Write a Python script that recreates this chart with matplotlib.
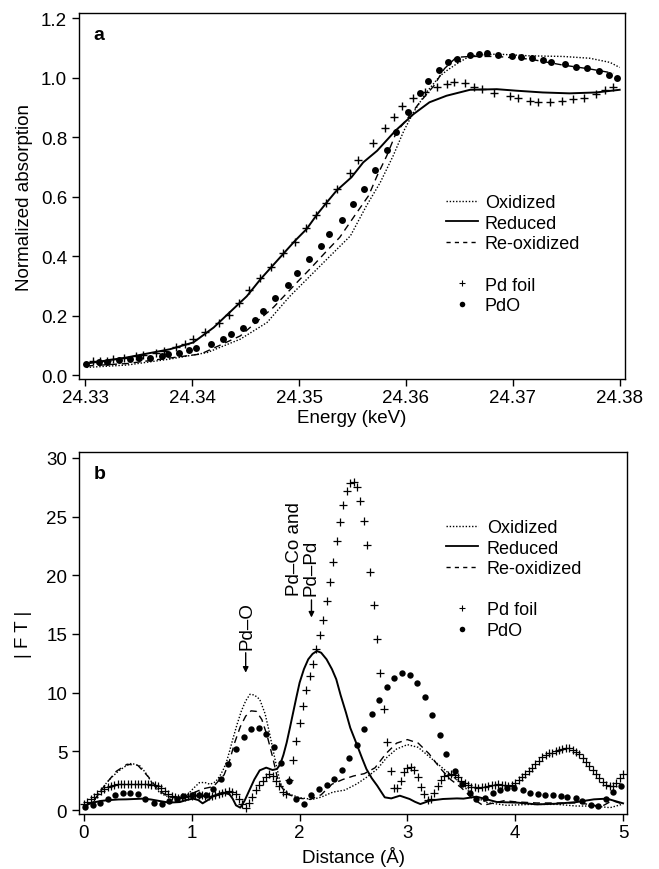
import numpy as np
import matplotlib
matplotlib.use('Agg')
import matplotlib.pyplot as plt
from matplotlib.lines import Line2D

plt.rcParams['font.family'] = ['Liberation Sans', 'DejaVu Sans']

# ---- panel a: XANES (energy in keV, normalized absorption) ----
red_e = [24.3301, 24.3338, 24.3379, 24.3401, 24.3420, 24.3435, 24.3451, 24.3464, 24.3475, 24.3485,
         24.3496, 24.3507, 24.3517, 24.3526, 24.3535, 24.3549, 24.3560, 24.3573, 24.3590, 24.3607,
         24.3622, 24.3638, 24.3660, 24.3685, 24.3703, 24.3728, 24.3753, 24.3778, 24.3800]
red_mu = [0.039, 0.059, 0.087, 0.110, 0.160, 0.211, 0.265, 0.323, 0.367, 0.407,
          0.451, 0.491, 0.541, 0.581, 0.620, 0.665, 0.715, 0.754, 0.821, 0.877,
          0.917, 0.939, 0.959, 0.961, 0.956, 0.950, 0.947, 0.950, 0.959]

oxi_e = [24.3301, 24.3339, 24.3379, 24.3414, 24.3445, 24.3470, 24.3491, 24.3523, 24.3548, 24.3563,
         24.3576, 24.3588, 24.3598, 24.3607, 24.3619, 24.3632, 24.3638, 24.3647, 24.3660, 24.3685,
         24.3716, 24.3747, 24.3772, 24.3791, 24.3800]
oxi_mu = [0.026, 0.034, 0.054, 0.076, 0.121, 0.177, 0.264, 0.379, 0.468, 0.569,
          0.648, 0.737, 0.821, 0.883, 0.950, 1.006, 1.023, 1.045, 1.073, 1.079,
          1.073, 1.071, 1.065, 1.051, 1.034]

reox_e = [24.3301, 24.3339, 24.3408, 24.3445, 24.3476, 24.3501, 24.3510, 24.3526, 24.3538, 24.3552,
          24.3565, 24.3573, 24.3582, 24.3591, 24.3601, 24.3613, 24.3626, 24.3636, 24.3647, 24.3660,
          24.3685, 24.3716, 24.3747, 24.3772, 24.3794]
reox_mu = [0.031, 0.039, 0.071, 0.132, 0.228, 0.323, 0.356, 0.418, 0.463, 0.536,
           0.603, 0.670, 0.737, 0.816, 0.861, 0.917, 0.972, 1.030, 1.068, 1.071,
           1.071, 1.062, 1.042, 1.029, 1.015]

foil_e = [24.3307, 24.3314, 24.3320, 24.3326, 24.3336, 24.3347, 24.3354, 24.3366, 24.3374, 24.3385,
          24.3393, 24.3401, 24.3412, 24.3425, 24.3434, 24.3444, 24.3453, 24.3463, 24.3474, 24.3485,
          24.3496, 24.3506, 24.3516, 24.3525, 24.3535, 24.3548, 24.3555, 24.3569, 24.3580, 24.3589,
          24.3596, 24.3607, 24.3618, 24.3629, 24.3638, 24.3645, 24.3655, 24.3664, 24.3671, 24.3682,
          24.3697, 24.3705, 24.3716, 24.3724, 24.3735, 24.3746, 24.3756, 24.3767, 24.3778, 24.3786,
          24.3794]
foil_mu = [0.046, 0.048, 0.046, 0.054, 0.057, 0.063, 0.068, 0.074, 0.082, 0.093,
           0.104, 0.121, 0.144, 0.174, 0.202, 0.242, 0.287, 0.325, 0.365, 0.410,
           0.448, 0.493, 0.538, 0.578, 0.625, 0.681, 0.724, 0.780, 0.829, 0.866,
           0.903, 0.930, 0.952, 0.967, 0.978, 0.984, 0.981, 0.970, 0.961, 0.948,
           0.937, 0.930, 0.922, 0.919, 0.919, 0.922, 0.928, 0.930, 0.945, 0.959,
           0.970]

pdo_e = [24.33009, 24.33124, 24.33203, 24.33311, 24.33421, 24.33498, 24.33607, 24.33717, 24.33769, 24.33879,
         24.33965, 24.34037, 24.34175, 24.34283, 24.34364, 24.34474, 24.34589, 24.34661, 24.34776, 24.34900,
         24.34984, 24.35093, 24.35203, 24.35284, 24.35400, 24.35508, 24.35607, 24.35713, 24.35825, 24.35907,
         24.36016, 24.36131, 24.36209, 24.36311, 24.36395, 24.36479, 24.36598, 24.36685, 24.36754, 24.36863,
         24.36997, 24.37081, 24.37175, 24.37283, 24.37362, 24.37486, 24.37595, 24.37698, 24.37807, 24.37900,
         24.37975]
pdo_mu = [0.039, 0.045, 0.045, 0.050, 0.053, 0.056, 0.059, 0.065, 0.070, 0.076,
          0.084, 0.092, 0.105, 0.120, 0.137, 0.158, 0.186, 0.215, 0.258, 0.303,
          0.344, 0.390, 0.433, 0.473, 0.520, 0.575, 0.625, 0.688, 0.755, 0.818,
          0.885, 0.948, 0.987, 1.025, 1.051, 1.064, 1.076, 1.079, 1.081, 1.077,
          1.073, 1.070, 1.067, 1.059, 1.053, 1.044, 1.035, 1.031, 1.023, 1.009,
          0.998]

# ---- panel b: Fourier transform magnitude vs distance (A) ----
red_r = [0, 0.08, 0.16, 0.24, 0.32, 0.39, 0.47, 0.55, 0.62, 0.70,
         0.79, 0.89, 0.95, 1.01, 1.06, 1.10, 1.15, 1.20, 1.25, 1.29,
         1.35, 1.38, 1.41, 1.45, 1.49, 1.54, 1.58, 1.63, 1.69, 1.75,
         1.79, 1.82, 1.85, 1.88, 1.91, 1.94, 1.97, 2.00, 2.04, 2.08,
         2.12, 2.16, 2.20, 2.25, 2.30, 2.34, 2.38, 2.43, 2.47, 2.53,
         2.58, 2.62, 2.67, 2.72, 2.76, 2.79, 2.85, 2.93, 3.02, 3.07,
         3.12, 3.21, 3.33, 3.46, 3.52, 3.64, 3.74, 3.83, 4.02, 4.20,
         4.39, 4.57, 4.73, 4.85, 5.00]
red_ft = [0.34, 0.63, 0.78, 0.85, 0.90, 0.91, 0.94, 0.97, 0.90, 0.77,
          0.63, 0.68, 0.85, 0.97, 0.85, 0.57, 0.85, 1.19, 1.38, 1.48,
          1.34, 0.95, 0.40, 0.20, 0.80, 1.80, 2.60, 3.38, 3.61, 3.41,
          3.50, 3.89, 4.70, 5.74, 7.00, 8.30, 9.60, 10.85, 12.00, 12.84,
          13.30, 13.55, 13.40, 12.84, 12.00, 11.14, 9.80, 8.30, 7.00, 5.60,
          4.40, 3.49, 2.70, 2.07, 1.50, 1.08, 0.99, 1.22, 0.94, 0.70,
          0.51, 0.80, 0.94, 0.99, 0.97, 1.14, 0.90, 0.68, 0.63, 0.48,
          0.54, 0.68, 0.91, 0.97, 0.57]

oxi_r = [0, 0.08, 0.14, 0.21, 0.27, 0.32, 0.38, 0.44, 0.52, 0.57,
         0.61, 0.66, 0.70, 0.76, 0.83, 0.95, 1.01, 1.07, 1.12, 1.17,
         1.22, 1.26, 1.29, 1.32, 1.35, 1.38, 1.42, 1.46, 1.50, 1.54,
         1.58, 1.63, 1.68, 1.72, 1.77, 1.82, 1.86, 1.91, 2.00, 2.12,
         2.20, 2.31, 2.42, 2.53, 2.62, 2.72, 2.81, 2.90, 3.00, 3.10,
         3.21, 3.30, 3.41, 3.49, 3.52, 3.61, 3.74, 3.92, 4.14, 4.39,
         4.57, 4.73, 4.88, 4.99]
oxi_ft = [0.34, 0.63, 1.40, 2.33, 2.90, 3.32, 3.70, 3.98, 3.75, 3.20,
          2.61, 2.00, 1.48, 1.20, 1.05, 1.19, 1.80, 2.33, 2.35, 2.19,
          2.40, 2.90, 3.40, 4.03, 5.00, 6.02, 7.30, 8.44, 9.30, 9.86,
          9.80, 9.43, 8.20, 6.59, 4.40, 2.33, 1.70, 1.34, 1.05, 0.91,
          1.10, 1.53, 1.70, 2.22, 2.78, 3.49, 4.49, 5.20, 5.57, 5.34,
          4.49, 3.78, 2.93, 2.36, 2.05, 1.19, 0.63, 0.40, 0.48, 0.48,
          0.34, 0.34, 0.20, 0.48]

reox_r = [0, 0.1, 0.2, 0.3, 0.4, 0.5, 0.6, 0.7, 0.8, 0.9, 1.0, 1.1, 1.2, 1.3,
          1.35, 1.4, 1.45, 1.5, 1.55, 1.6, 1.65, 1.7, 1.75, 1.8, 1.85, 1.9,
          2.0, 2.1, 2.2, 2.3, 2.4, 2.5, 2.6, 2.7, 2.8, 2.9, 3.0, 3.1, 3.2, 3.3,
          3.4, 3.5, 3.6, 3.7, 3.8, 3.9, 4.0, 4.2, 4.4, 4.6, 4.8, 4.9, 5.0]
reox_ft = [0.30, 0.90, 2.20, 3.30, 3.90, 3.80, 2.80, 1.60, 1.10, 1.10, 1.40, 1.80, 2.00, 3.00,
           4.20, 5.80, 7.10, 8.00, 8.45, 8.40, 7.70, 6.30, 4.50, 2.50, 1.70, 1.30,
           1.00, 0.90, 1.30, 2.20, 2.60, 2.90, 3.10, 3.60, 4.80, 5.70, 6.00, 5.70, 4.80, 3.60,
           2.60, 1.90, 1.00, 0.40, 0.60, 0.80, 0.70, 0.60, 0.60, 0.60, 0.30, 0.80, 0.50]

# Pd foil FT on its own R grid (0 to 5 A, 161 points)
foil_ft = [0.50, 0.68, 0.90, 1.12, 1.35, 1.58, 1.80, 1.95, 2.07, 2.14,
           2.18, 2.21, 2.23, 2.24, 2.24, 2.23, 2.21, 2.20, 2.19, 2.18,
           2.17, 2.14, 2.05, 1.85, 1.62, 1.40, 1.22, 1.10, 1.05, 1.08,
           1.15, 1.20, 1.22, 1.24, 1.25, 1.24, 1.22, 1.20, 1.22, 1.28,
           1.38, 1.48, 1.55, 1.62, 1.55, 1.35, 0.95, 0.55, 0.20, 0.60,
           1.15, 1.70, 2.10, 2.50, 2.85, 3.05, 2.90, 2.50, 2.05, 1.50,
           1.35, 2.60, 4.30, 5.90, 7.40, 8.90, 10.20, 11.40, 12.40, 13.70,
           14.90, 16.20, 17.80, 19.40, 21.10, 22.90, 24.50, 26.00, 27.20, 27.90,
           27.95, 27.50, 26.30, 24.60, 22.60, 20.30, 17.50, 14.60, 11.70, 8.60,
           5.80, 3.30, 1.90, 1.85, 2.50, 3.20, 3.60, 3.65, 3.40, 2.80,
           2.00, 1.35, 0.85, 0.95, 1.45, 2.05, 2.60, 2.92, 3.02, 3.04,
           2.95, 2.80, 2.50, 2.28, 2.12, 2.00, 1.92, 1.90, 1.93, 1.97,
           2.05, 2.12, 2.17, 2.19, 2.15, 2.10, 2.05, 2.10, 2.28, 2.55,
           2.80, 3.05, 3.30, 3.60, 3.90, 4.20, 4.50, 4.70, 4.82, 4.90,
           5.00, 5.12, 5.22, 5.30, 5.28, 5.15, 4.95, 4.75, 4.45, 4.10,
           3.75, 3.40, 3.05, 2.70, 2.40, 2.15, 2.05, 2.03, 2.30, 2.70,
           3.05]
foil_r = np.linspace(0, 5, len(foil_ft))

pdo_r = [0.01, 0.08, 0.15, 0.22, 0.29, 0.36, 0.43, 0.50, 0.57, 0.65,
         0.72, 0.79, 0.86, 0.92, 1.00, 1.07, 1.13, 1.20, 1.27, 1.34,
         1.41, 1.48, 1.55, 1.62, 1.69, 1.76, 1.83, 1.90, 1.97, 2.04,
         2.11, 2.18, 2.25, 2.32, 2.39, 2.46, 2.53, 2.60, 2.67, 2.74,
         2.81, 2.88, 2.95, 3.02, 3.09, 3.16, 3.23, 3.30, 3.36, 3.44,
         3.51, 3.58, 3.64, 3.72, 3.79, 3.86, 3.92, 3.99, 4.07, 4.14,
         4.21, 4.28, 4.35, 4.42, 4.48, 4.56, 4.62, 4.70, 4.77, 4.84,
         4.91, 4.98]
pdo_ft = [0.26, 0.40, 0.57, 0.91, 1.25, 1.42, 1.42, 1.34, 0.97, 0.63,
          0.48, 0.77, 0.97, 1.19, 1.31, 1.31, 1.28, 1.76, 2.67, 3.92,
          5.17, 6.22, 6.88, 6.96, 6.48, 5.40, 4.03, 2.47, 0.97, 0.48,
          1.25, 1.76, 2.13, 2.63, 3.38, 4.43, 5.58, 6.90, 8.18, 9.40,
          10.48, 11.28, 11.68, 11.53, 10.82, 9.66, 8.07, 6.39, 4.74, 3.30,
          2.22, 1.42, 0.97, 1.02, 1.42, 1.70, 1.85, 1.88, 1.70, 1.48,
          1.34, 1.28, 1.25, 1.19, 1.14, 0.99, 0.77, 0.43, 0.34, 0.91,
          1.53, 2.05]

dotted = (0, (1, 1.3))
dashed = (0, (5, 3.5))
fs = 13.5


def style_axes(ax):
    ax.tick_params(direction='out', length=5, width=1, labelsize=fs,
                   top=False, right=False)
    ax.tick_params(axis='x', pad=2.5)
    for s in ax.spines.values():
        s.set_linewidth(1)


def add_legend(ax, anchor, pad):
    handles = [Line2D([], [], color='black', lw=1, linestyle=dotted),
               Line2D([], [], color='black', lw=1.3, linestyle='-'),
               Line2D([], [], color='black', lw=1, linestyle=(0, (3, 3))),
               Line2D([], [], linestyle='none'),
               Line2D([], [], color='black', linestyle='none', marker='+', ms=5, mew=0.8),
               Line2D([], [], color='black', linestyle='none', marker='o', ms=4, mew=0)]
    labels = ['Oxidized', 'Reduced', 'Re-oxidized', '', 'Pd foil', 'PdO']
    ax.legend(handles, labels, loc='upper left', bbox_to_anchor=anchor,
              frameon=False, fontsize=13, handlelength=1.75, handletextpad=pad,
              labelspacing=0.2, borderpad=0, borderaxespad=0)


fig = plt.figure(figsize=(6.59, 8.70), dpi=100)

# panel a
ax1 = fig.add_axes([0.1199, 0.5632, 0.8285, 0.4207])
ax1.plot(oxi_e, oxi_mu, color='black', lw=1, linestyle=dotted)
ax1.plot(reox_e, reox_mu, color='black', lw=1, linestyle=dashed)
ax1.plot(red_e, red_mu, color='black', lw=1.4)
ax1.plot(foil_e, foil_mu, linestyle='none', marker='+', ms=6, mew=1, color='black')
ax1.plot(pdo_e, pdo_mu, linestyle='none', marker='o', ms=5, mew=0, color='black')
ax1.set_xlim(24.3294, 24.3805)
ax1.set_ylim(-0.013, 1.217)
ax1.set_xticks([24.33, 24.34, 24.35, 24.36, 24.37, 24.38])
ax1.set_xticklabels(['24.33', '24.34', '24.35', '24.36', '24.37', '24.38'])
ax1.set_yticks([0.0, 0.2, 0.4, 0.6, 0.8, 1.0, 1.2])
ax1.set_yticklabels(['0.0', '0.2', '0.4', '0.6', '0.8', '1.0', '1.2'])
ax1.set_xlabel('Energy (keV)', fontsize=fs, labelpad=2)
ax1.set_ylabel('Normalized absorption', fontsize=fs, labelpad=6)
style_axes(ax1)
ax1.text(0.027, 0.965, 'a', transform=ax1.transAxes, fontsize=14,
         fontweight='bold', va='top', ha='left')
add_legend(ax1, (0.672, 0.505), 0.4)

# panel b
ax2 = fig.add_axes([0.1199, 0.0632, 0.8316, 0.4161])
ax2.plot(oxi_r, oxi_ft, color='black', lw=1, linestyle=dotted)
ax2.plot(reox_r, reox_ft, color='black', lw=1, linestyle=dashed)
ax2.plot(red_r, red_ft, color='black', lw=1.4)
ax2.plot(foil_r, foil_ft, linestyle='none', marker='+', ms=5.5, mew=0.9, color='black')
ax2.plot(pdo_r, pdo_ft, linestyle='none', marker='o', ms=4.6, mew=0, color='black')
ax2.set_xlim(-0.046, 5.037)
ax2.set_ylim(-0.34, 30.5)
ax2.set_xticks([0, 1, 2, 3, 4, 5])
ax2.set_yticks([0, 5, 10, 15, 20, 25, 30])
ax2.set_xlabel('Distance (\u00c5)', fontsize=fs, labelpad=3)
ax2.set_ylabel('| F T |', fontsize=fs, labelpad=10)
style_axes(ax2)
ax2.text(0.027, 0.965, 'b', transform=ax2.transAxes, fontsize=14,
         fontweight='bold', va='top', ha='left')
add_legend(ax2, (0.670, 0.815), 0.5)

# peak assignments
ax2.annotate('', xy=(1.5, 11.7), xytext=(1.5, 13.4),
             arrowprops=dict(arrowstyle='-|>', color='black', lw=1,
                             mutation_scale=8, shrinkA=0, shrinkB=0))
ax2.text(1.51, 13.7, 'Pd\u2013O', rotation=90, ha='center', va='bottom', fontsize=fs)
ax2.annotate('', xy=(2.11, 16.4), xytext=(2.11, 17.9),
             arrowprops=dict(arrowstyle='-|>', color='black', lw=1,
                             mutation_scale=8, shrinkA=0, shrinkB=0))
ax2.text(2.03, 18.35, 'Pd\u2013Co and\nPd\u2013Pd', rotation=90, ha='center', va='bottom',
         fontsize=fs, multialignment='left', linespacing=1.0)

fig.savefig('out.png', dpi=100)
